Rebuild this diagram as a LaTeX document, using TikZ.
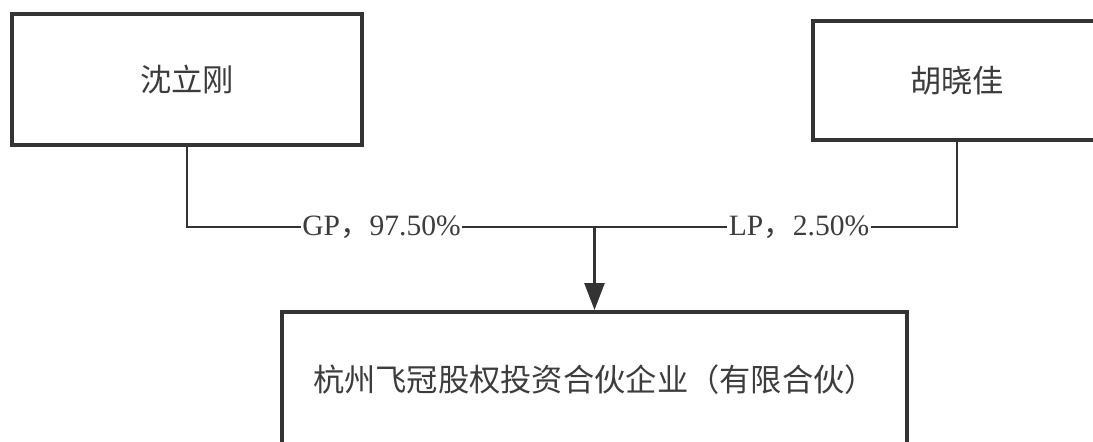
\documentclass[tikz,border=0pt]{standalone}
\usepackage{fontspec}
\setmainfont{Liberation Serif}
\newfontfamily\cjk{Noto Sans CJK SC}
\usetikzlibrary{arrows.meta}
\definecolor{linegray}{HTML}{333333}
\definecolor{textgray}{HTML}{3C3C3C}

\begin{document}
\begin{tikzpicture}[x=0.02cm, y=-0.02cm,
    entity/.style={draw=linegray, line width=0.08cm, text=textgray, inner sep=0pt,
      font=\cjk\fontsize{17.8pt}{20pt}\selectfont},
    share/.style={text=textgray, inner xsep=0.03cm, inner ysep=0pt,
      font=\fontsize{16.8pt}{20pt}\selectfont},
    link/.style={draw=linegray, line width=0.05cm}]
        \clip (0,0) rectangle (1093,441);
        \fill[white] (0,0) rectangle (1093,441);

        \node[entity, minimum width=7cm, minimum height=2.62cm] at (187,79.5) (shen) {沈立刚};
        \node[entity, minimum width=5.76cm, minimum height=2.38cm] at (957,80.5) (hu) {胡晓佳};
        \node[entity, minimum width=12.5cm, minimum height=2.72cm] at (594.5,380) (fund) {杭州飞冠股权投资合伙企业（有限合伙）};

        \node[share] at (381.5,227) (gp) {GP{\cjk ，}97.50\%};
        \node[share] at (799,227) (lp) {LP{\cjk ，}2.50\%};
        \coordinate (split) at (594.5,227);

        \draw[link] (shen.south) |- (gp.west);
        \draw[link] (gp.east) -- (split);
        \draw[link] (split) -- (lp.west);
        \draw[link] (lp.east) -| (hu.south);
        \draw[link, -{Triangle[width=0.4cm, length=0.54cm]}] (split) -- (fund.north);
      \end{tikzpicture}
\end{document}
